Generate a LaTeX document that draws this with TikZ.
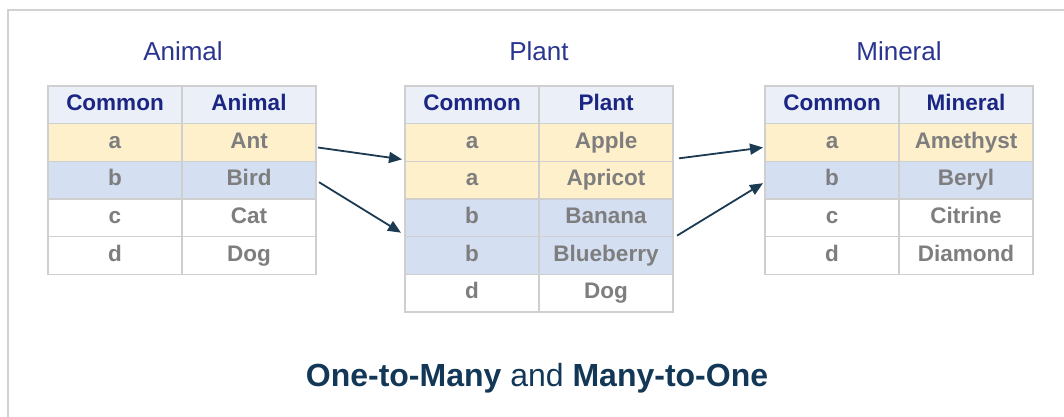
\documentclass[tikz,border=0pt]{standalone}
\usepackage{fontspec}
\setmainfont{Liberation Sans}
\usetikzlibrary{arrows.meta,calc}

\definecolor{framegray}{HTML}{D2D2D2}
\definecolor{gridgray}{HTML}{CFCFCF}
\definecolor{headfill}{HTML}{EAEFF8}
\definecolor{yelfill}{HTML}{FFF0CC}
\definecolor{bluefill}{HTML}{D4DFF2}
\definecolor{navy}{HTML}{1B2583}
\definecolor{titlenavy}{HTML}{2A3590}
\definecolor{bodygray}{HTML}{7E7E7E}
\definecolor{arrowink}{HTML}{1C3B52}
\definecolor{captionink}{HTML}{133857}

% one table row: #1 table, #2 row, #3 left x, #4 fill, #5 text colour, #6/#7 cell texts
\newcommand\tabrow[7]{%
  \node[cell,fill=#4,text=#5] (#1-#2-1) at ({#3+67},{86+37.67*#2+18.83}) {#6};
  \node[cell,fill=#4,text=#5] (#1-#2-2) at ({#3+201},{86+37.67*#2+18.83}) {#7};
}

\begin{document}
\begin{tikzpicture}[x=1pt,y=-1pt,
  cell/.style={draw=gridgray,line width=1.4pt,minimum width=134pt,minimum height=37.67pt,
    inner sep=0pt,outer sep=0pt,text height=16pt,text depth=4.5pt,
    font=\fontsize{22.5}{26}\selectfont\bfseries},
  tabtitle/.style={text=titlenavy,font=\fontsize{26}{30}\selectfont,inner sep=0pt},
  arr/.style={draw=arrowink,line width=1.8pt,-{Triangle[length=13pt,width=11pt]}},
]
\useasboundingbox (0,0) rectangle (1064,417);
\fill[white] (0,0) rectangle (1064,417);
% outer frame
\draw[framegray,line width=1.4pt] (8,430) -- (8,10) -- (1080,10);

% titles
\node[tabtitle] (tA) at (183,51) {Animal};
\node[tabtitle] (tP) at (539,51) {Plant};
\node[tabtitle] (tM) at (899,51) {Mineral};

% Animal table
\tabrow{A}{0}{48}{headfill}{navy}{Common}{Animal}
\tabrow{A}{1}{48}{yelfill}{bodygray}{a}{Ant}
\tabrow{A}{2}{48}{bluefill}{bodygray}{b}{Bird}
\tabrow{A}{3}{48}{white}{bodygray}{c}{Cat}
\tabrow{A}{4}{48}{white}{bodygray}{d}{Dog}

% Plant table
\tabrow{P}{0}{405}{headfill}{navy}{Common}{Plant}
\tabrow{P}{1}{405}{yelfill}{bodygray}{a}{Apple}
\tabrow{P}{2}{405}{yelfill}{bodygray}{a}{Apricot}
\tabrow{P}{3}{405}{bluefill}{bodygray}{b}{Banana}
\tabrow{P}{4}{405}{bluefill}{bodygray}{b}{Blueberry}
\tabrow{P}{5}{405}{white}{bodygray}{d}{Dog}

% Mineral table
\tabrow{M}{0}{765}{headfill}{navy}{Common}{Mineral}
\tabrow{M}{1}{765}{yelfill}{bodygray}{a}{Amethyst}
\tabrow{M}{2}{765}{bluefill}{bodygray}{b}{Beryl}
\tabrow{M}{3}{765}{white}{bodygray}{c}{Citrine}
\tabrow{M}{4}{765}{white}{bodygray}{d}{Diamond}

% links between matching rows
\draw[arr] ($(A-1-2.east)+(2,5)$) -- ($(P-1-1.south west)+(-3,-2)$);
\draw[arr] ($(A-2-2.east)+(3,2)$) -- ($(P-4-1.north west)+(-4,-4)$);
\draw[arr] ($(P-2-2.north east)+(6,-3)$) -- ($(M-1-1.west)+(-2,5)$);
\draw[arr] ($(P-4-2.north east)+(4,-1)$) -- ($(M-2-1.west)+(-2,3)$);

% caption
\node[text=captionink,font=\fontsize{32}{36}\selectfont,inner sep=0pt] (cap) at (537,378)
  {\textbf{One-to-Many} and \textbf{Many-to-One}};
\end{tikzpicture}
\end{document}
